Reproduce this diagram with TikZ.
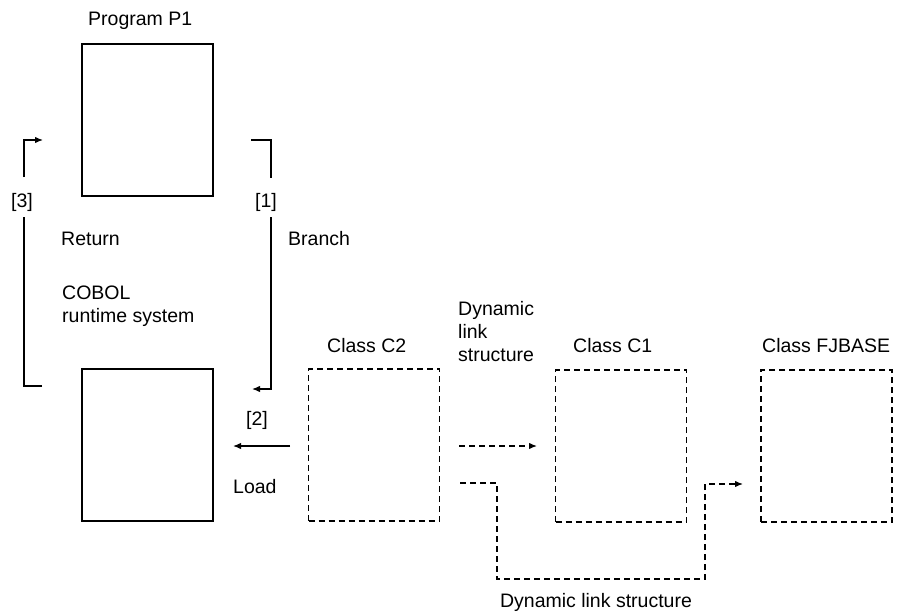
\documentclass[tikz,border=0pt]{standalone}
\usepackage{fontspec}
\setmainfont{Liberation Sans}
\usetikzlibrary{arrows.meta}
\begin{document}
\begin{tikzpicture}[x=1pt,y=-1pt,
  box/.style={draw,line width=1.3pt,minimum width=131pt,minimum height=152pt,inner sep=0pt},
  dbox/.style={box,dash pattern=on 6pt off 4pt},
  lbl/.style={font=\fontsize{19.5}{23}\selectfont,inner sep=0pt},
  conn/.style={line width=1.3pt},
  tip/.style={-{Latex[length=8pt,width=6.5pt]}},
  dconn/.style={conn,dash pattern=on 6pt off 4pt}]
\useasboundingbox (0,0) rectangle (898,613);
% boxes
\node[box] (p1) at (147.5,120) {};
\node[box] (rts) at (147.5,445) {};
\node[dbox] (c2) at (374,445) {};
\node[dbox] (c1) at (621,446) {};
\node[dbox] (fj) at (826.5,446) {};
% titles
\node[lbl,anchor=base west] (tp1) at (88,26) {Program P1};
\node[lbl,anchor=base west,align=left] (trts) at (62,322) {COBOL\\runtime system};
\node[lbl,anchor=base west] (tc2) at (327,352) {Class C2};
\node[lbl,anchor=base west] (tc1) at (573,352) {Class C1};
\node[lbl,anchor=base west] (tfj) at (762,352) {Class FJBASE};
% labels
\node[lbl] (l3) at (22,202) {[3]};
\node[lbl] (l1) at (266,202) {[1]};
\node[lbl,anchor=base west] (lret) at (61,245) {Return};
\node[lbl,anchor=base west] (lbr) at (288,245) {Branch};
\node[lbl] (l2) at (257,420) {[2]};
\node[lbl,anchor=base west] (lload) at (233,493) {Load};
\node[lbl,anchor=base west,align=left] (ldyn) at (458,361) {Dynamic\\link\\structure};
\node[lbl,anchor=base] (ldyn2) at (596,607) {Dynamic link structure};
% coordinates
\coordinate (r3a) at (42,386);
\coordinate (r3b) at (24,217);
\coordinate (r3c) at (24,177);
\coordinate (r3d) at (43,140);
\coordinate (b1a) at (251,140);
\coordinate (b1b) at (271,178);
\coordinate (b1c) at (271,217);
\coordinate (b1d) at (252,389);
\coordinate (ld1) at (290,446);
\coordinate (ld2) at (233,446);
\coordinate (dy1) at (459,446);
\coordinate (dy2) at (537,446);
\coordinate (dz1) at (460,483);
\coordinate (dz2) at (497,579);
\coordinate (dz3) at (705,484);
\coordinate (dz4) at (743,484);
% connectors
\draw[conn] (r3a) -| (r3b);
\draw[conn,tip] (r3c) |- (r3d);
\draw[conn] (b1a) -| (b1b);
\draw[conn,tip] (b1c) |- (b1d);
\draw[conn,tip] (ld1) -- (ld2);
\draw[dconn,tip] (dy1) -- (dy2);
\draw[dconn,tip] (dz1) -| (dz2) -| (dz3) -- (dz4);
\end{tikzpicture}
\end{document}
